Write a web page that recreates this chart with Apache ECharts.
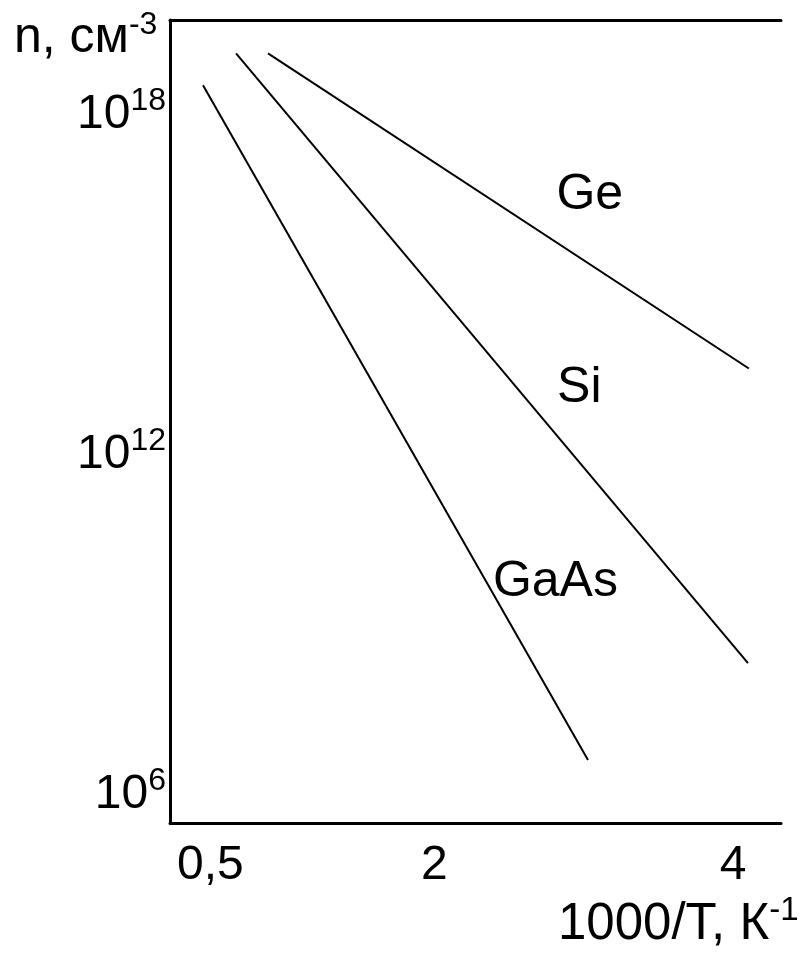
<!DOCTYPE html>
<html>
<head>
<meta charset="utf-8">
<title>n(1000/T)</title>
<script src="https://cdn.jsdelivr.net/npm/echarts@6.0.0/dist/echarts.min.js"></script>
<style>
	html, body { margin: 0; padding: 0; background: #fff; }
	#chart { width: 807px; height: 962px; }
</style>
</head>
<body>
<div id="chart"></div>
<script>
// x = 1000/T (K^-1), y = lg n (n in cm^-3)
var gaAsX = [0.451, 3.028];
var gaAsY = [18.47, 6.56];
var siX = [0.672, 4.099];
var siY = [19.03, 8.27];
var geX = [0.886, 4.105];
var geY = [19.03, 13.47];

// where the material names sit
var labelNames = ["Ge", "Si", "GaAs"];
var labelX = [3.04, 2.97, 2.81];
var labelY = [16.53, 13.12, 9.70];

var xTicks = [0.5, 2, 4];
var yTicks = [6, 12, 18];

var FONT = "'Liberation Sans', Arial, sans-serif";

function zip(xs, ys) {
	var out = [];
	for (var i = 0; i < xs.length; i++) {
		out.push([xs[i], ys[i]]);
	}
	return out;
}

function makeLine(name, xs, ys) {
	return {
		name: name,
		type: "line",
		data: zip(xs, ys),
		showSymbol: false,
		symbol: "none",
		silent: true,
		lineStyle: { color: "#000", width: 2 }
	};
}

var vaLabels = [];
for (var i = 0; i < labelNames.length; i++) {
	vaLabels.push({ name: labelNames[i], value: [labelX[i], labelY[i]] });
}

var supRich = {
	b: { fontSize: 48, lineHeight: 54, fontFamily: FONT, color: "#000", verticalAlign: "bottom" },
	s: { fontSize: 32, lineHeight: 32, fontFamily: FONT, color: "#000", verticalAlign: "top" }
};

var moOptions = {
	animation: false,
	backgroundColor: "#fff",
	grid: {
		left: 170,
		right: 26,
		top: 20,
		bottom: 139,
		containLabel: false,
		outerBoundsMode: "none"
	},
	xAxis: [{
		type: "value",
		position: "bottom",
		min: 0.23,
		max: 4.32,
		axisLine: { show: true, lineStyle: { color: "#000", width: 3 } },
		axisTick: { show: false },
		splitLine: { show: false },
		axisLabel: {
			customValues: xTicks,
			margin: 19,
			fontSize: 48,
			fontFamily: FONT,
			color: "#000",
			formatter: function(v) {
				return String(v).replace(".", ",");
			}
		}
	}, {
		// top border only
		type: "value",
		position: "top",
		min: 0.23,
		max: 4.32,
		axisLine: { show: true, lineStyle: { color: "#000", width: 3 } },
		axisTick: { show: false },
		axisLabel: { show: false },
		splitLine: { show: false }
	}],
	yAxis: {
		type: "value",
		min: 5.45,
		max: 19.62,
		axisLine: { show: true, lineStyle: { color: "#000", width: 3 } },
		axisTick: { show: false },
		splitLine: { show: false },
		axisLabel: {
			customValues: yTicks,
			margin: 4,
			formatter: function(v) {
				return "{b|10}{s|" + v + "}";
			},
			rich: supRich
		}
	},
	graphic: [{
		type: "text",
		left: 14,
		top: 9,
		style: {
			text: "{a|n, см}{s|-3}",
			rich: {
				a: { fontSize: 50, lineHeight: 54, fontFamily: FONT, fill: "#000", verticalAlign: "bottom" },
				s: { fontSize: 32, lineHeight: 32, fontFamily: FONT, fill: "#000", verticalAlign: "top" }
			}
		}
	}, {
		type: "text",
		left: 558,
		top: 894,
		style: {
			text: "{a|1000/T, К}{s|-1}",
			rich: {
				a: { fontSize: 51, lineHeight: 56, fontFamily: FONT, fill: "#000", verticalAlign: "bottom" },
				s: { fontSize: 33, lineHeight: 33, fontFamily: FONT, fill: "#000", verticalAlign: "top" }
			}
		}
	}],
	series: [
		makeLine("GaAs", gaAsX, gaAsY),
		makeLine("Si", siX, siY),
		makeLine("Ge", geX, geY),
		{
			name: "labels",
			type: "scatter",
			symbolSize: 0,
			silent: true,
			itemStyle: { opacity: 1 },
			data: vaLabels,
			label: {
				show: true,
				position: "inside",
				formatter: "{b}",
				fontSize: 50,
				fontFamily: FONT,
				color: "#000",
				opacity: 1
			}
		}
	]
};

var voChart = echarts.init(document.getElementById("chart"), null, { renderer: "canvas" });
voChart.setOption(moOptions);
</script>
</body>
</html>
